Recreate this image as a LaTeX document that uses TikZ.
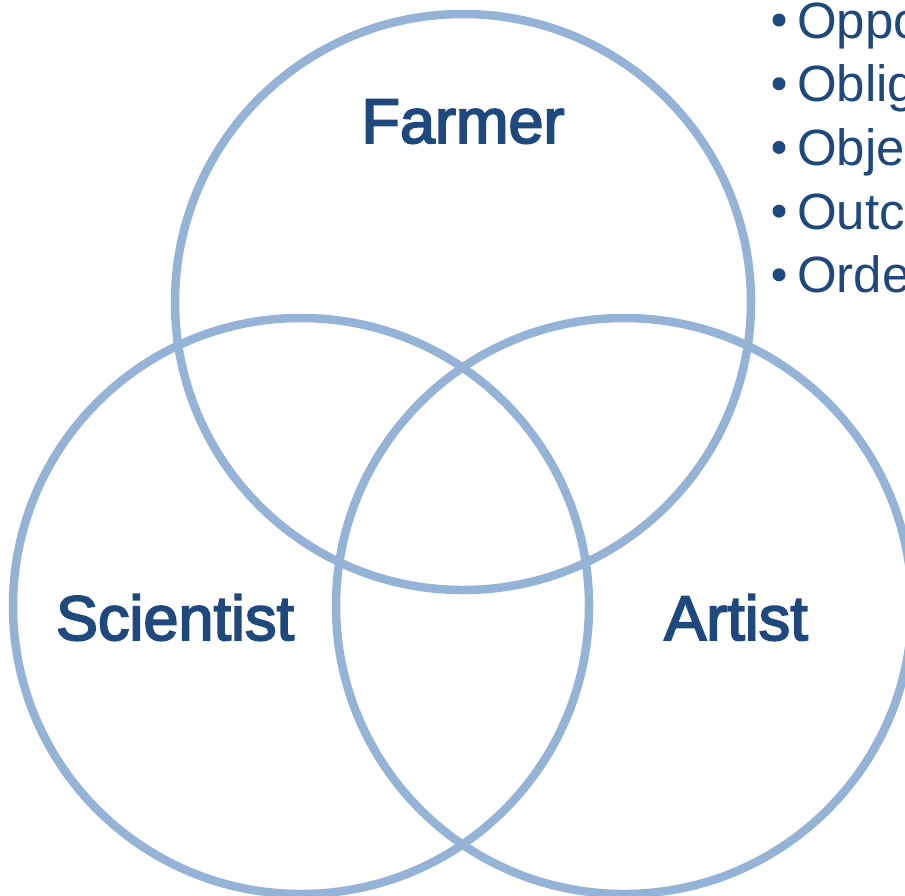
\documentclass[tikz,border=0pt]{standalone}
\usepackage{fontspec}
\setmainfont{Liberation Sans}
\newfontfamily\setnamefont[FakeBold=3]{Liberation Sans}
\definecolor{ringblue}{HTML}{95B3D7}
\definecolor{inkblue}{HTML}{1F497D}
\begin{document}
\begin{tikzpicture}[x=1pt,y=-1pt,
  ring/.style={circle,draw=ringblue,line width=8.5pt,minimum size=576pt,inner sep=0pt},
  setlabel/.style={anchor=base,text=inkblue,inner sep=0pt,font=\setnamefont\fontsize{63}{75}\selectfont},
  item/.style={anchor=base west,text=inkblue,inner sep=0pt,font=\fontsize{51}{64}\selectfont},
  dot/.style={circle,fill=inkblue,minimum size=13pt,inner sep=0pt}]
  \useasboundingbox (0,0) rectangle (905,895);
  % the three overlapping sets
  \node[ring] (farmer) at (463,302) {};
  \node[ring] (scientist) at (301,606) {};
  \node[ring] (artist) at (624,606) {};
  % set names
  \node[setlabel] (lfarmer) at (463,143) {Farmer};
  \node[setlabel] (lscientist) at (175,640) {Scientist};
  \node[setlabel] (lartist) at (736,640) {Artist};
  % bullet list
  \foreach \t [count=\i] in {Oppo,Oblig,Obje,Outc,Orde}{
    \node[dot] (b\i) at (779,{38+63.7*(\i-1)-18}) {};
    \node[item] (t\i) at (797,{38+63.7*(\i-1)}) {\t};
  }
\end{tikzpicture}
\end{document}
